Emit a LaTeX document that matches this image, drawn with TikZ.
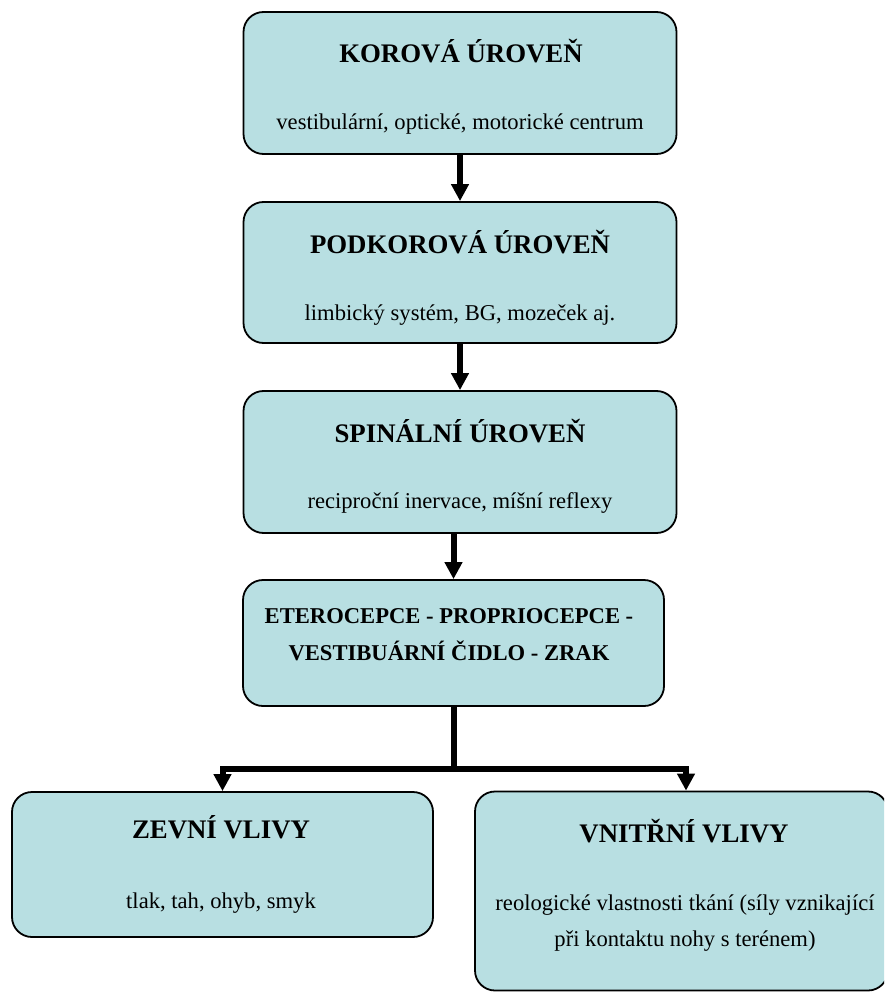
\documentclass[tikz,border=0pt]{standalone}
\usepackage{fontspec}
\setmainfont{Liberation Serif}
\usetikzlibrary{arrows.meta}
\definecolor{boxfill}{RGB}{184,223,226}
\begin{document}
\begin{tikzpicture}[x=1pt,y=-1pt,
  box/.style={draw=black, line width=1.8pt, fill=boxfill, rounded corners=20pt, inner sep=0pt},
  ttl/.style={anchor=base, inner sep=0pt, font=\fontsize{26.8}{30}\selectfont\bfseries},
  sub/.style={anchor=base, inner sep=0pt, font=\fontsize{22.6}{27}\selectfont},
  bsub/.style={anchor=base, inner sep=0pt, font=\fontsize{22.6}{27}\selectfont\bfseries},
  conn/.style={line width=6pt},
  arr/.style={conn, -{Triangle[width=17pt,length=17pt]}}]
\clip (0,0) rectangle (884,992);
\useasboundingbox (0,0) rectangle (884,992);
\fill[white] (0,0) rectangle (884,992);

% boxes
\node[box, minimum width=433pt, minimum height=142pt] (b1) at (460,83) {};
\node[box, minimum width=433pt, minimum height=141pt] (b2) at (460,272.5) {};
\node[box, minimum width=433pt, minimum height=142pt] (b3) at (460,462) {};
\node[box, minimum width=421pt, minimum height=126pt] (b4) at (453.5,643) {};
\node[box, minimum width=421pt, minimum height=145pt] (b5) at (222.5,864.5) {};
\node[box, minimum width=413pt, minimum height=199pt] (b6) at (681.5,891) {};

% texts
\node[ttl] (t1) at (461,63) {KOROVÁ ÚROVEŇ};
\node[sub] (s1) at (460,130) {vestibulární, optické, motorické centrum};
\node[ttl] (t2) at (460,253) {PODKOROVÁ ÚROVEŇ};
\node[sub] (s2) at (460,320) {limbický systém, BG, mozeček aj.};
\node[ttl] (t3) at (460,442) {SPINÁLNÍ ÚROVEŇ};
\node[sub] (s3) at (460,508) {reciproční inervace, míšní reflexy};
\node[bsub] (t4a) at (449,623) {ETEROCEPCE - PROPRIOCEPCE -};
\node[bsub] (t4b) at (449,660) {VESTIBUÁRNÍ ČIDLO - ZRAK};
\node[ttl] (t5) at (221,838) {ZEVNÍ VLIVY};
\node[sub] (s5) at (221,908) {tlak, tah, ohyb, smyk};
\node[ttl] (t6) at (684,842) {VNITŘNÍ VLIVY};
\node[sub] (s6a) at (685,910) {reologické vlastnosti tkání (síly vznikající};
\node[sub] (s6b) at (685,946) {při kontaktu nohy s terénem)};

% connectors
\draw[arr] (b1.south) -- (b2.north);
\draw[arr] (b2.south) -- (b3.north);
\draw[arr] (b3.south -| b4.south) -- (b4.north);
\coordinate (j) at (453.5,769);
\draw[conn] (b4.south) -- (j);
\draw[arr] (j) -| (b5.north);
\draw[arr] (j) -| ([xshift=4.5pt]b6.north);
\end{tikzpicture}
\end{document}
